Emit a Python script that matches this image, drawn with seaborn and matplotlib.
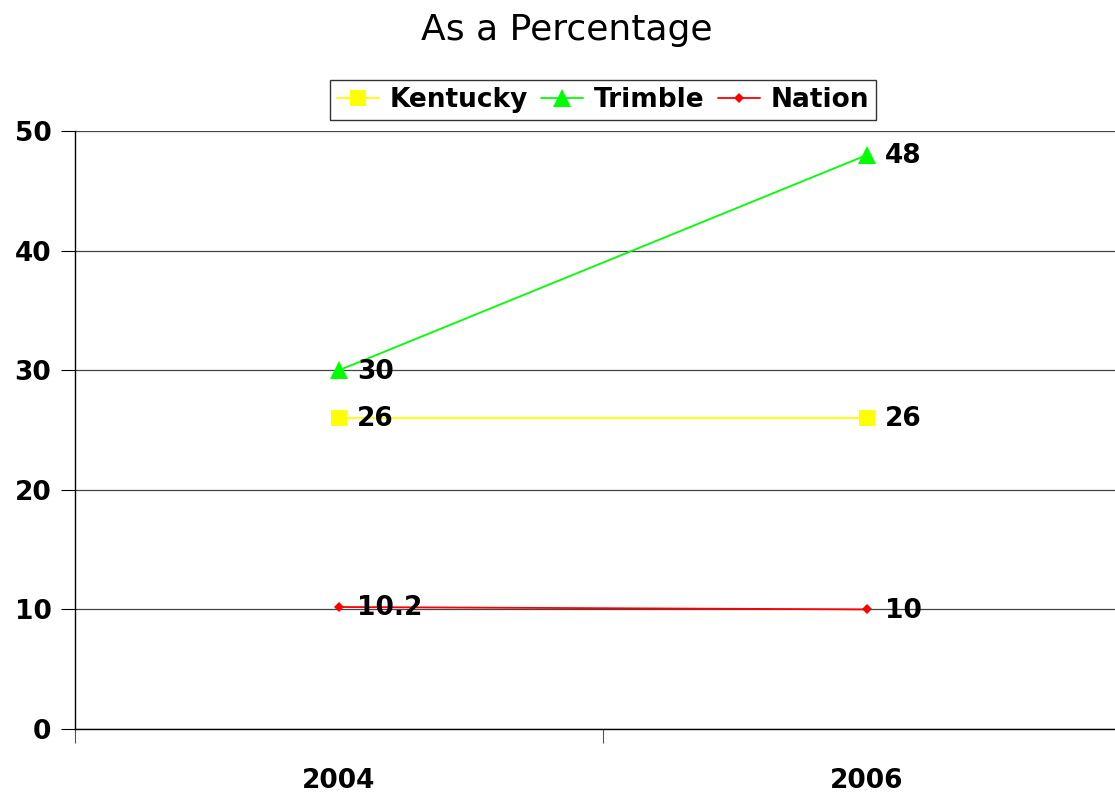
import pandas as pd
import seaborn as sns
import matplotlib.pyplot as plt

years = ["2004", "2006"]
kentucky = [26, 26]
trimble = [30, 48]
nation = [10.2, 10]
label_text = {"Kentucky": ["26", "26"], "Trimble": ["30", "48"], "Nation": ["10.2", "10"]}

df = pd.DataFrame({
    "year": years * 3,
    "pos": [0, 1] * 3,
    "value": kentucky + trimble + nation,
    "series": ["Kentucky"] * 2 + ["Trimble"] * 2 + ["Nation"] * 2,
})

sns.set_style("white")
plt.rcParams["font.family"] = ["DejaVu Sans"]
plt.rcParams["text.color"] = "black"
plt.rcParams["xtick.color"] = "black"
plt.rcParams["ytick.color"] = "black"

fig = plt.figure(figsize=(11.15, 7.95), dpi=100)
ax = fig.add_axes([75 / 1115, 66 / 795, 1056 / 1115, 598 / 795])

palette = {"Kentucky": "#FFFF00", "Trimble": "#00FF00", "Nation": "#FF0000"}
markers = {"Kentucky": "s", "Trimble": "^", "Nation": "D"}
sizes = [11, 13, 5]
sns.lineplot(data=df, x="pos", y="value", hue="series", style="series",
             palette=palette, markers=markers, dashes=False, ax=ax,
             linewidth=1.3, markeredgewidth=0, legend=False)
for line, s in zip(ax.lines, sizes):
    line.set_markersize(s)

for name in ["Kentucky", "Trimble", "Nation"]:
    sub = df[df.series == name]
    for (p, v), t in zip(zip(sub.pos, sub.value), label_text[name]):
        ax.annotate(t, (p, v), xytext=(13, -1), textcoords="offset points",
                    ha="left", va="center", fontsize=19, fontweight="bold", color="black")

ax.set_xlim(-0.5, 1.5)
ax.set_ylim(0, 50)
ax.set_yticks(range(0, 51, 10))
ax.set_yticklabels([str(v) for v in range(0, 51, 10)], fontsize=19, fontweight="bold")
ax.set_xticks([-0.5, 0.5, 1.5])
ax.set_xticklabels([])
ax.set_xticks([0, 1], minor=True)
ax.set_xticklabels(years, minor=True, fontsize=19, fontweight="bold")
ax.tick_params(axis="x", which="minor", length=0, pad=28)
ax.tick_params(axis="x", which="major", direction="out", length=10, color="#555555", bottom=True)
ax.tick_params(axis="y", direction="out", length=10, color="black", left=True, pad=7)
ax.yaxis.grid(True, color="#444444", linewidth=0.9)
ax.set_axisbelow(True)
for side in ["top", "right"]:
    ax.spines[side].set_visible(False)
for side in ["left", "bottom"]:
    ax.spines[side].set_color("black")
    ax.spines[side].set_linewidth(1.0)
ax.set_xlabel("")
ax.set_ylabel("")

handles = [plt.Line2D([], [], color=palette[n], marker=markers[n], markersize=s,
                      markeredgewidth=0, linewidth=1.3)
           for n, s in zip(["Kentucky", "Trimble", "Nation"], sizes)]
leg = fig.legend(handles, ["Kentucky", "Trimble", "Nation"], ncol=3,
                 loc="center", bbox_to_anchor=(603 / 1115, 1 - 100 / 795),
                 prop={"weight": "bold", "size": 19}, frameon=True, fancybox=False,
                 handlelength=1.6, handletextpad=0.4, columnspacing=0.5,
                 borderpad=0.25)
leg.get_frame().set_edgecolor("black")
leg.get_frame().set_linewidth(1.0)

fig.text(567 / 1115, 1 - 30 / 795, "As a Percentage", ha="center", va="center",
         fontsize=26, color="black")

fig.savefig("out.png", dpi=100)
